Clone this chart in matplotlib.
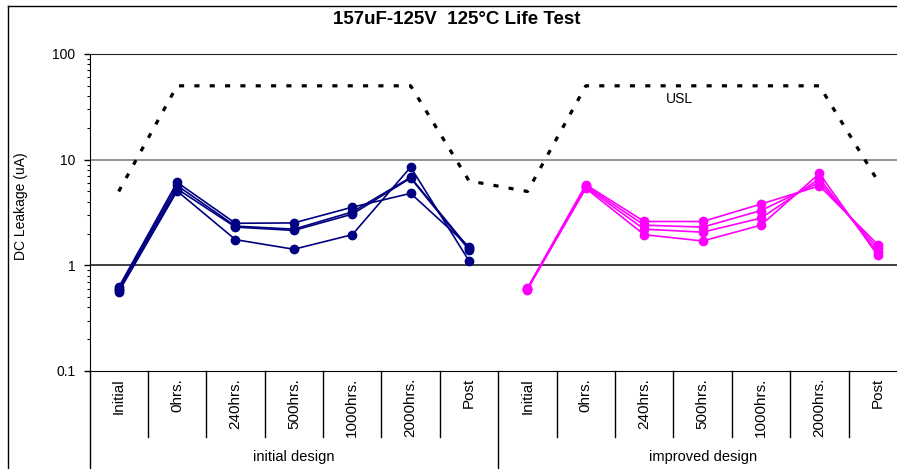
import matplotlib
matplotlib.use("Agg")
import matplotlib.pyplot as plt
from matplotlib.lines import Line2D
from matplotlib.ticker import LogLocator, FixedLocator, NullFormatter
import matplotlib.transforms as mtransforms

plt.rcParams['font.family'] = ['Liberation Sans', 'DejaVu Sans']

# ---------------- data ----------------
categories = ["Initial", "0hrs.", "240hrs.", "500hrs.", "1000hrs.", "2000hrs.", "Post"]
groups = ["initial design", "improved design"]
title = "157uF-125V  125\u00b0C Life Test"
ylabel = "DC Leakage (uA)"

usl = [5, 50, 50, 50, 50, 50, 6.3, 5, 50, 50, 50, 50, 50, 6.3]

initial_1 = [0.56, 5.05, 1.75, 1.42, 1.95, 8.5, 1.10]
initial_2 = [0.62, 6.1, 2.5, 2.52, 3.55, 4.8, 1.5]
initial_3 = [0.60, 5.7, 2.35, 2.2, 3.2, 6.8, 1.45]
initial_4 = [0.58, 5.3, 2.3, 2.14, 3.05, 6.7, 1.40]

improved_1 = [0.61, 5.8, 2.6, 2.6, 3.8, 5.65, 1.57]
improved_2 = [0.60, 5.65, 2.4, 2.3, 3.3, 6.1, 1.45]
improved_3 = [0.59, 5.5, 2.2, 2.06, 2.8, 6.6, 1.33]
improved_4 = [0.60, 5.35, 1.95, 1.7, 2.4, 7.4, 1.24]

ytick_vals = [0.1, 1, 10, 100]
ytick_labels = ["0.1", "1", "10", "100"]

# ---------------- figure ----------------
W, H = 897, 469
fig = plt.figure(figsize=(W / 100, H / 100), dpi=100)
fig.patch.set_facecolor("white")

ax_l, ax_r, ax_t, ax_b = 89.5, 907, 54, 371
ax = fig.add_axes([ax_l / W, 1 - ax_b / H, (ax_r - ax_l) / W, (ax_b - ax_t) / H])
ax.set_yscale("log")
ax.set_ylim(0.1, 100)
n = len(categories)
ncat = n * len(groups)
ax.set_xlim(-0.5, ncat - 0.5)

# grid lines
ax.axhline(10, color="#808080", lw=1.2, zorder=1)
ax.axhline(1, color="#202020", lw=1.2, zorder=1)

# USL
xs_all = list(range(ncat))
ax.plot(xs_all, usl, color="black", lw=2.3, linestyle=(0, (1.6, 3.2)), zorder=2)
ax.text(9.61, 37.5, "USL", fontsize=10, ha="center", va="center")

navy = "#000080"
magenta = "#FF00FF"
x1 = list(range(n))
x2 = list(range(n, 2 * n))
for s in [initial_1, initial_2, initial_3, initial_4]:
    ax.plot(x1, s, color=navy, lw=1.2, marker="o", ms=6, zorder=3)
for s in [improved_1, improved_2, improved_3, improved_4]:
    ax.plot(x2, s, color=magenta, lw=1.2, marker="o", ms=6, zorder=3)

# spines
ax.spines["right"].set_visible(False)
ax.spines["top"].set_color("#202020")
ax.spines["left"].set_color("black")
ax.spines["bottom"].set_color("black")

# y ticks
ax.yaxis.set_major_locator(FixedLocator(ytick_vals))
ax.set_yticklabels(ytick_labels)
ax.yaxis.set_minor_locator(LogLocator(base=10, subs=range(2, 10)))
ax.yaxis.set_minor_formatter(NullFormatter())
ax.tick_params(axis="y", which="major", direction="out", length=4.5, width=1, labelsize=10, pad=5.5)
ax.tick_params(axis="y", which="minor", direction="out", length=2.5, width=0.8)

# x ticks (category labels)
ax.set_xticks(xs_all)
ax.set_xticklabels(categories * len(groups), rotation=90, fontsize=11)
ax.tick_params(axis="x", which="both", length=0, pad=5)

# separators
trans = mtransforms.blended_transform_factory(ax.transData, ax.transAxes)
inner_bottom = (ax_b - 437) / (ax_b - ax_t)
outer_bottom = (ax_b - 480) / (ax_b - ax_t)
for g in range(len(groups)):
    for i in range(1, n):
        xp = g * n + i - 0.5
        ax.add_line(Line2D([xp, xp], [0, inner_bottom], transform=trans, color="black", lw=1, clip_on=False))
for g in range(len(groups) + 1):
    xp = g * n - 0.5
    ax.add_line(Line2D([xp, xp], [0, outer_bottom], transform=trans, color="black", lw=1, clip_on=False))

label_y = (ax_b - 457) / (ax_b - ax_t)
for g, name in enumerate(groups):
    ax.text(g * n + (n - 1) / 2, label_y, name, transform=trans, ha="center", va="center", fontsize=10.5)

# title and y label
fig.text(456.5 / W, 1 - 20 / H, title, ha="center", va="center", fontsize=13.5, fontweight="bold")
fig.text(21 / W, 1 - 206 / H, ylabel, ha="center", va="center", rotation=90, fontsize=10)

# outer chart border
fig.add_artist(Line2D([8 / W, 8 / W], [1 - 6 / H, 0], transform=fig.transFigure, color="black", lw=1))
fig.add_artist(Line2D([8 / W, 1], [1 - 6 / H, 1 - 6 / H], transform=fig.transFigure, color="black", lw=1))

fig.savefig("out.png", dpi=100, facecolor="white")
